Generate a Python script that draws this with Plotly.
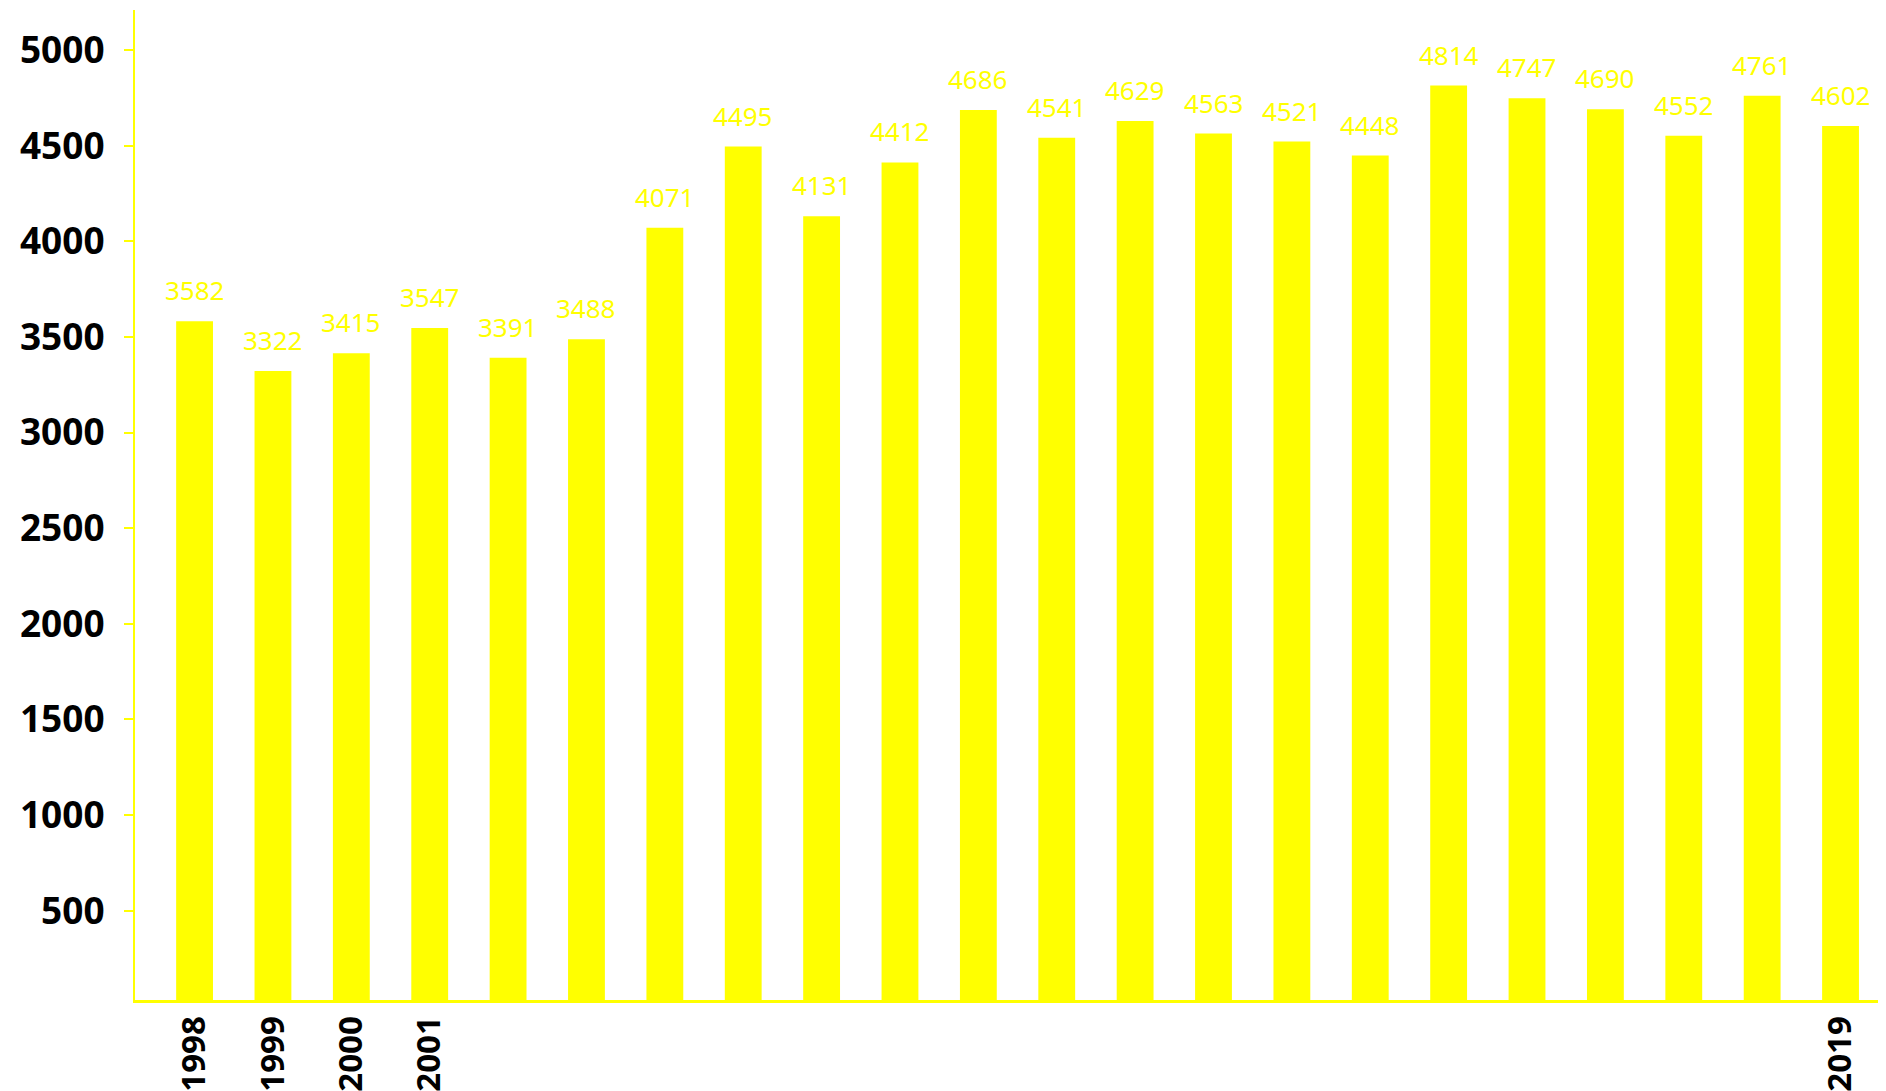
import plotly.graph_objects as go

years = list(range(1998, 2020))
values = [3582, 3322, 3415, 3547, 3391, 3488, 4071, 4495, 4131, 4412, 4686,
          4541, 4629, 4563, 4521, 4448, 4814, 4747, 4690, 4552, 4761, 4602]
x_tick_years = [1998, 1999, 2000, 2001, 2019]
y_ticks = [500, 1000, 1500, 2000, 2500, 3000, 3500, 4000, 4500, 5000]

YELLOW = "#FFFF00"
FONT = "Noto Sans"
yrange = [33, 5209]

fig = go.Figure()
fig.add_trace(go.Bar(
    x=years, y=values, width=0.47, marker=dict(color=YELLOW, line=dict(width=0)),
    hoverinfo="skip", showlegend=False,
))

for yr, v in zip(years, values):
    fig.add_annotation(
        x=yr, y=v, text=str(v), showarrow=False, yanchor="bottom", yshift=11,
        font=dict(family=FONT, size=26, color=YELLOW),
    )

fig.update_layout(
    width=1878, height=1083,
    margin=dict(l=127, r=0, t=2, b=91, autoexpand=False),
    plot_bgcolor="white", paper_bgcolor="white",
    bargap=0.53,
    xaxis=dict(
        range=[1997.24, 2019.58], tickmode="array", tickvals=x_tick_years,
        ticktext=[str(y) for y in x_tick_years], tickangle=-90,
        tickfont=dict(family=FONT, size=33, color="black", weight="bold"),
        showline=True, linecolor=YELLOW, linewidth=3, ticks="",
        showgrid=False, zeroline=False, ticklabelstandoff=0, automargin=False,
    ),
    yaxis=dict(
        range=yrange, tickmode="array", tickvals=y_ticks,
        tickfont=dict(family=FONT, size=37, color="black", weight="bold"),
        showline=True, linecolor=YELLOW, linewidth=2,
        ticks="outside", ticklen=9, tickcolor=YELLOW, tickwidth=2,
        showgrid=False, zeroline=False, ticklabelstandoff=12, automargin=False,
    ),
    yaxis2=dict(
        range=yrange, overlaying="y", side="left", tickmode="array", tickvals=y_ticks,
        ticks="inside", ticklen=13, tickcolor=YELLOW, tickwidth=2,
        showticklabels=False, showgrid=False, zeroline=False, showline=False,
        automargin=False,
    ),
)

fig.write_html("out.html")
